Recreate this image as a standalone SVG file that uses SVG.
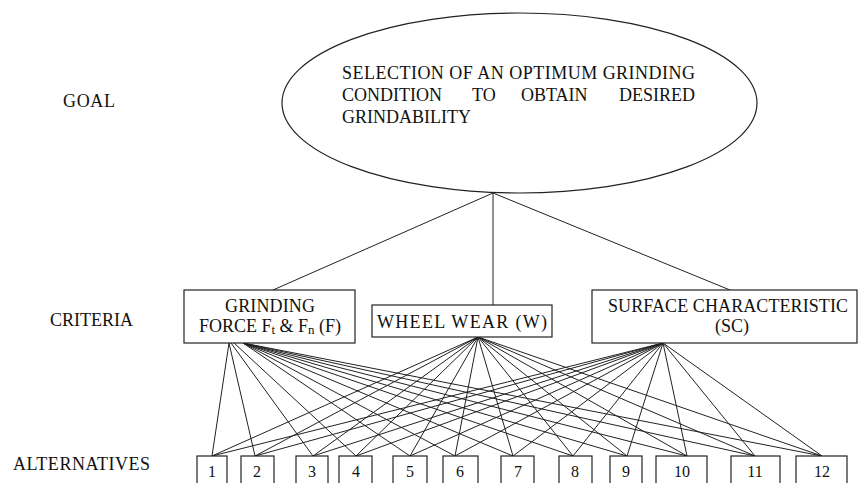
<svg xmlns="http://www.w3.org/2000/svg" width="858" height="483" viewBox="0 0 858 483" font-family="'Liberation Serif', 'Times New Roman', 'DejaVu Serif', serif">
<style>
text{font-family:'Liberation Serif','Times New Roman','DejaVu Serif',serif;fill:#111;}
.lbl{font-size:18px;}
.box{fill:#fff;stroke:#222;stroke-width:1.2;}
.num{font-size:16px;text-anchor:middle;}
.c line{stroke:#222;stroke-width:1;}
.mid{text-anchor:middle;}
</style>
<rect width="858" height="483" fill="#fff"/>
<g id="level-labels" class="lbl">
<text x="63" y="107" textLength="52">GOAL</text>
<text x="50" y="326" textLength="83">CRITERIA</text>
<text x="13" y="470" textLength="137">ALTERNATIVES</text>
</g>
<g class="c" id="connectors">
<line x1="493" y1="193" x2="273" y2="290"/>
<line x1="493" y1="193" x2="493" y2="305"/>
<line x1="493" y1="193" x2="730" y2="290"/>
<line x1="229" y1="343" x2="212" y2="456"/>
<line x1="229" y1="343" x2="255" y2="456"/>
<line x1="231" y1="343" x2="313" y2="456"/>
<line x1="234" y1="343" x2="356" y2="456"/>
<line x1="243" y1="343" x2="410" y2="456"/>
<line x1="243" y1="343" x2="455" y2="456"/>
<line x1="243" y1="343" x2="513" y2="456"/>
<line x1="243" y1="343" x2="573" y2="456"/>
<line x1="243" y1="343" x2="627" y2="456"/>
<line x1="243" y1="343" x2="687" y2="456"/>
<line x1="243" y1="343" x2="755" y2="456"/>
<line x1="243" y1="343" x2="822" y2="456"/>
<line x1="478" y1="337" x2="212" y2="456"/>
<line x1="478" y1="337" x2="255" y2="456"/>
<line x1="478" y1="337" x2="313" y2="456"/>
<line x1="478" y1="337" x2="356" y2="456"/>
<line x1="478" y1="337" x2="410" y2="456"/>
<line x1="478" y1="337" x2="455" y2="456"/>
<line x1="478" y1="337" x2="513" y2="456"/>
<line x1="478" y1="337" x2="573" y2="456"/>
<line x1="478" y1="337" x2="627" y2="456"/>
<line x1="478" y1="337" x2="687" y2="456"/>
<line x1="478" y1="337" x2="755" y2="456"/>
<line x1="478" y1="337" x2="822" y2="456"/>
<line x1="663" y1="343" x2="212" y2="456"/>
<line x1="663" y1="343" x2="255" y2="456"/>
<line x1="663" y1="343" x2="313" y2="456"/>
<line x1="663" y1="343" x2="356" y2="456"/>
<line x1="663" y1="343" x2="410" y2="456"/>
<line x1="663" y1="343" x2="455" y2="456"/>
<line x1="663" y1="343" x2="513" y2="456"/>
<line x1="663" y1="343" x2="573" y2="456"/>
<line x1="663" y1="343" x2="627" y2="456"/>
<line x1="663" y1="343" x2="687" y2="456"/>
<line x1="663" y1="343" x2="755" y2="456"/>
<line x1="663" y1="343" x2="822" y2="456"/>
</g>
<g id="goal">
<ellipse cx="519.5" cy="103" rx="237.5" ry="90" class="box"/>
<text class="lbl" x="342" y="79" textLength="353">SELECTION OF AN OPTIMUM GRINDING</text>
<text class="lbl" x="342" y="101">CONDITION</text>
<text class="lbl" x="472" y="101">TO</text>
<text class="lbl" x="521" y="101">OBTAIN</text>
<text class="lbl" x="695" y="101" text-anchor="end">DESIRED</text>
<text class="lbl" x="342" y="123">GRINDABILITY</text>
</g>
<g id="criterion-force">
<rect x="184" y="290" width="171" height="53" class="box"/>
<text class="lbl mid" x="270" y="312" textLength="90">GRINDING</text>
<text class="lbl mid" x="270" y="332">FORCE F<tspan font-size="13" dy="2">t</tspan><tspan dy="-2"> &amp; F</tspan><tspan font-size="13" dy="2">n</tspan><tspan dy="-2"> (F)</tspan></text>
</g>
<g id="criterion-wear">
<rect x="372" y="305" width="180" height="32" class="box"/>
<text class="lbl" x="377" y="328" textLength="170">WHEEL WEAR (W)</text>
</g>
<g id="criterion-surface">
<rect x="592" y="290" width="265" height="53" class="box"/>
<text class="lbl" x="608" y="312" textLength="240">SURFACE CHARACTERISTIC</text>
<text class="lbl mid" x="732" y="332">(SC)</text>
</g>
<g id="alt-1"><rect x="197" y="456" width="30" height="40" class="box"/><text class="num" x="212" y="477">1</text></g>
<g id="alt-2"><rect x="241" y="456" width="33" height="40" class="box"/><text class="num" x="257" y="477">2</text></g>
<g id="alt-3"><rect x="296" y="456" width="32" height="40" class="box"/><text class="num" x="312" y="477">3</text></g>
<g id="alt-4"><rect x="339" y="456" width="33" height="40" class="box"/><text class="num" x="356" y="477">4</text></g>
<g id="alt-5"><rect x="393" y="456" width="34" height="40" class="box"/><text class="num" x="410" y="477">5</text></g>
<g id="alt-6"><rect x="443" y="456" width="35" height="40" class="box"/><text class="num" x="460" y="477">6</text></g>
<g id="alt-7"><rect x="501" y="456" width="33" height="40" class="box"/><text class="num" x="518" y="477">7</text></g>
<g id="alt-8"><rect x="559" y="456" width="33" height="40" class="box"/><text class="num" x="575" y="477">8</text></g>
<g id="alt-9"><rect x="610" y="456" width="32" height="40" class="box"/><text class="num" x="626" y="477">9</text></g>
<g id="alt-10"><rect x="656" y="456" width="51" height="40" class="box"/><text class="num" x="682" y="477">10</text></g>
<g id="alt-11"><rect x="731" y="456" width="49" height="40" class="box"/><text class="num" x="755" y="477">11</text></g>
<g id="alt-12"><rect x="796" y="456" width="51" height="40" class="box"/><text class="num" x="822" y="477">12</text></g>
</svg>
